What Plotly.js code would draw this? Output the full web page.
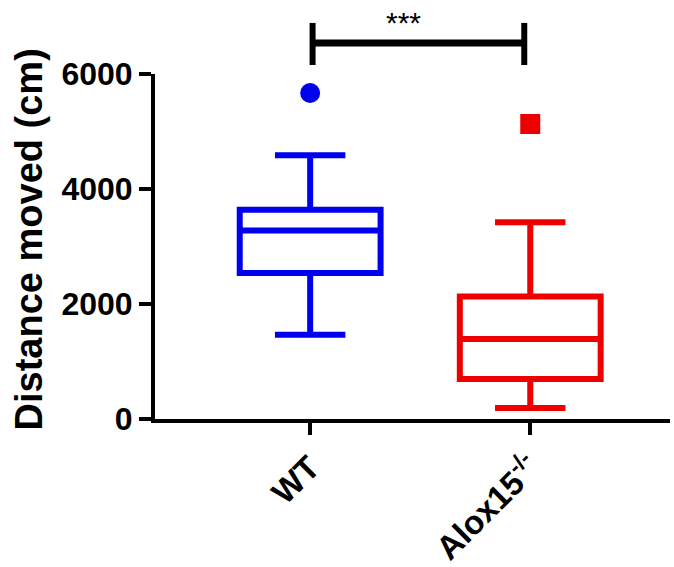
<!DOCTYPE html>
<html>
<head>
<meta charset="utf-8">
<script src="https://cdn.plot.ly/plotly-3.0.1.min.js"></script>
<style>html,body{margin:0;padding:0;background:#fff;}#chart{width:674px;height:567px;}</style>
</head>
<body>
<div id="chart"></div>
<script>
// Data
const groups = ["WT", "Alox15<sup>-/-</sup>"];
const lowerWhisker = [1466, 191];
const q1Values = [2540, 696];
const medianValues = [3280, 1390];
const q3Values = [3640, 2130];
const upperWhisker = [4585, 3420];
const outlierValues = [5670, 5130];
const colors = ["#0000ee", "#ee0000"];
const outlierSymbols = ["circle", "square"];
const yTicks = [0, 2000, 4000, 6000];
const significance = "***";

const FONT = "Liberation Sans, Arial, sans-serif";

const traces = [];
groups.forEach((g, i) => {
  traces.push({
    type: "box",
    x: [g],
    q1: [q1Values[i]],
    median: [medianValues[i]],
    q3: [q3Values[i]],
    lowerfence: [lowerWhisker[i]],
    upperfence: [upperWhisker[i]],
    boxpoints: false,
    width: 0.64,
    whiskerwidth: 0.5,
    line: {color: colors[i], width: 6},
    fillcolor: "rgba(0,0,0,0)",
    hoverinfo: "skip",
    showlegend: false
  });
  traces.push({
    type: "scatter",
    mode: "markers",
    x: [g],
    y: [outlierValues[i]],
    marker: {color: colors[i], symbol: outlierSymbols[i], size: 20},
    cliponaxis: false,
    showlegend: false,
    hoverinfo: "skip"
  });
});

const layout = {
  width: 674,
  height: 567,
  margin: {l: 155, r: 4, t: 74, b: 148},
  paper_bgcolor: "#fff",
  plot_bgcolor: "#fff",
  showlegend: false,
  xaxis: {
    type: "category",
    range: [-0.705, 1.635],
    showline: true,
    linecolor: "#000",
    linewidth: 4,
    ticks: "outside",
    ticklen: 12,
    tickwidth: 4,
    tickcolor: "#000",
    tickangle: -45,
    tickfont: {family: FONT, size: 33, color: "#000", weight: "bold"},
    showgrid: false,
    zeroline: false
  },
  yaxis: {
    range: [0, 6000],
    tickvals: yTicks,
    ticktext: yTicks.map(String),
    showline: true,
    linecolor: "#000",
    linewidth: 4,
    ticks: "outside",
    ticklen: 12,
    tickwidth: 4,
    tickcolor: "#000",
    tickfont: {family: FONT, size: 32, color: "#000", weight: "bold"},
    showgrid: false,
    zeroline: false
  },
  shapes: [
    {type: "line", xref: "paper", yref: "paper", x0: 0.306, x1: 0.306, y0: 1.026, y1: 1.148, line: {color: "#000", width: 6}},
    {type: "line", xref: "paper", yref: "paper", x0: 0.717, x1: 0.717, y0: 1.026, y1: 1.148, line: {color: "#000", width: 6}},
    {type: "line", xref: "paper", yref: "paper", x0: 0.306, x1: 0.717, y0: 1.09, y1: 1.09, line: {color: "#000", width: 7}}
  ],
  annotations: [
    {text: significance, xref: "paper", yref: "paper", x: 0.483, y: 1.15, showarrow: false,
     font: {family: FONT, size: 30, color: "#000"}, yanchor: "middle"},
    {text: "Distance moved (cm)", xref: "paper", yref: "paper", x: -0.245, y: 0.52, textangle: -90,
     showarrow: false, xanchor: "center", yanchor: "middle",
     font: {family: FONT, size: 38, color: "#000", weight: "bold"}}
  ]
};

Plotly.newPlot("chart", traces, layout, {displayModeBar: false, staticPlot: true});
</script>
</body>
</html>
